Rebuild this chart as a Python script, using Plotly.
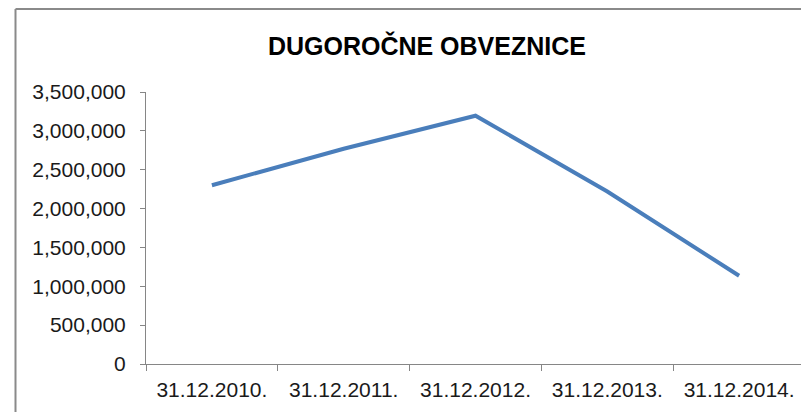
import plotly.graph_objects as go

categories = ["31.12.2010.", "31.12.2011.", "31.12.2012.", "31.12.2013.", "31.12.2014."]
values = [2300000, 2770000, 3195000, 2220000, 1135000]
y_ticks = [0, 500000, 1000000, 1500000, 2000000, 2500000, 3000000, 3500000]
title_text = "DUGOROČNE OBVEZNICE"

fig = go.Figure()
fig.add_trace(go.Scatter(
    x=categories, y=values, mode="lines",
    line=dict(color="#4a7ebb", width=4),
    showlegend=False, hoverinfo="skip",
))

axis_gray = "#868686"
# figure is offset by the page's 8px body margin
L, T, PW, PH = 138, 84, 659, 272
fig.update_layout(
    width=801, height=404,
    margin=dict(l=L, r=4, t=T, b=48),
    paper_bgcolor="white", plot_bgcolor="white",
    font=dict(family="Liberation Sans, Arial, sans-serif", size=21, color="#1a1a1a"),
    title=dict(
        text="<b>" + title_text + "</b>",
        font=dict(family="Liberation Sans, Arial, sans-serif", size=25, color="black"),
        x=0.523, xref="container", xanchor="center",
        y=0.906, yref="container", yanchor="middle",
    ),
    xaxis=dict(
        type="category", showgrid=False, zeroline=False,
        showline=True, linecolor=axis_gray, linewidth=1,
        ticks="outside", ticklen=6, tickcolor=axis_gray, tickson="boundaries",
        ticklabelstandoff=7,
        range=[-0.5, 4.5],
    ),
    yaxis=dict(
        range=[0, 3500000], tickvals=y_ticks, tickformat=",d",
        showgrid=False, zeroline=False,
        showline=True, linecolor=axis_gray, linewidth=1,
        ticks="outside", ticklen=5, tickcolor=axis_gray,
        ticklabelstandoff=10,
    ),
    separators=".,",
    shapes=[
        dict(type="line", xref="paper", yref="paper",
             x0=(7.5 - L) / PW, x1=(7.5 - L) / PW,
             y0=(T + PH - 420) / PH, y1=(T + PH - 1) / PH,
             line=dict(color="#8a8a8a", width=2)),
        dict(type="line", xref="paper", yref="paper",
             x0=(7.5 - L) / PW, x1=(820 - L) / PW,
             y0=(T + PH - 1) / PH, y1=(T + PH - 1) / PH,
             line=dict(color="#8a8a8a", width=2)),
    ],
)

fig.write_html("out.html")
